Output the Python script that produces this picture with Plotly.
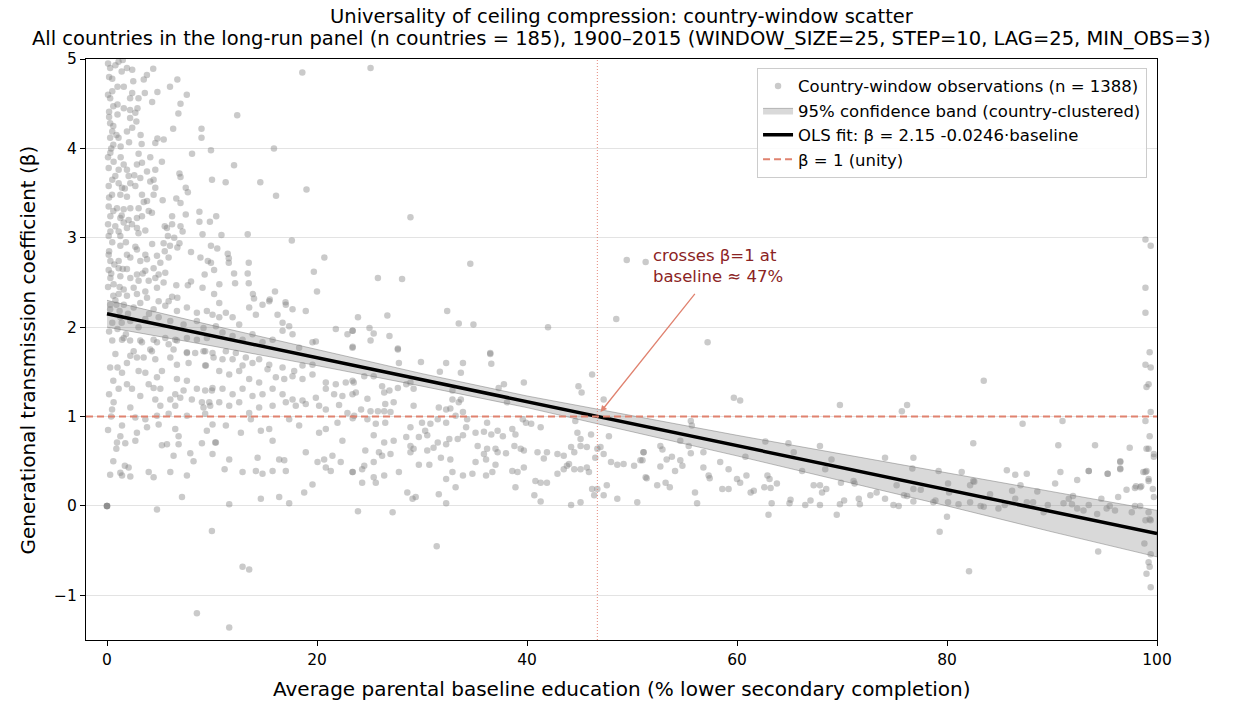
import plotly.graph_objects as go

# ---------------- data ----------------
obs = [
 # x 0-25, beta 4-5
 (1.1,4.97),(0.8,4.93),(1.9,4.90),(0.3,4.90),(1.4,4.86),(2.4,4.88),(4.4,4.89),(0.2,4.80),(0.5,4.78),(3.8,4.82),
 (3.5,4.77),(6.7,4.77),(6.0,4.69),(1.0,4.69),(1.6,4.69),(0.5,4.64),(2.4,4.62),(3.6,4.62),(4.8,4.63),(7.6,4.60),
 (0.3,4.56),(2.2,4.56),(3.0,4.56),(1.0,4.49),(0.6,4.47),(7.0,4.50),(4.3,4.52),(1.6,4.45),(2.2,4.43),(2.9,4.45),
 (0.2,4.41),(1.0,4.38),(6.8,4.39),(2.2,4.34),(2.7,4.40),(0.3,4.28),(0.6,4.25),(2.4,4.23),(0.5,4.19),(1.9,4.19),
 (6.3,4.22),(9.0,4.22),(3.2,4.15),(0.3,4.12),(1.1,4.12),(4.8,4.11),(5.4,4.10),(9.0,4.12),(4.6,4.06),(2.1,4.07),
 (0.6,4.04),(1.3,4.02),(12.4,4.37),(18.6,4.85),(25.1,4.90),(9.9,3.98),(15.9,4.00),(1.5,4.99),(0.1,4.95),
 # x 4-21, beta 2.3-4
 (8.1,3.94),(12.1,3.81),(6.9,3.72),(7.0,3.68),(10.0,3.65),(11.3,3.62),(14.6,3.62),(16.1,3.47),(19.0,3.54),(7.5,3.56),
 (7.7,3.51),(6.6,3.44),(7.0,3.39),(5.3,3.42),(7.5,3.26),(6.2,3.24),(8.8,3.29),(8.8,3.18),(9.8,3.18),(10.4,3.24),
 (5.5,3.13),(6.2,3.15),(7.0,3.13),(7.2,3.07),(9.1,3.04),(10.9,3.03),(13.4,3.04),(17.6,2.97),(5.8,3.02),(6.4,3.00),
 (6.9,2.94),(6.7,2.89),(6.0,2.91),(5.5,2.85),(4.3,2.93),(8.0,2.84),(9.9,2.91),(10.5,2.88),(11.5,2.82),(11.6,2.77),
 (11.6,2.72),(8.9,2.78),(9.6,2.74),(9.9,2.72),(13.5,2.72),(13.4,2.60),(13.5,2.49),(12.1,2.60),(12.2,2.49),(10.7,2.48),
 (20.7,2.78),(19.7,2.62),(20.0,2.40),(16.0,2.40),(13.9,2.37),(14.0,2.32),(15.5,2.31),(17.0,2.28),(10.2,2.64),(9.3,2.59),
 (9.1,2.44),(10.2,2.37),(6.6,2.47),(7.7,2.47),(8.0,2.51),(6.2,2.34),(6.7,2.33),
 # x 23-52, beta 1.7-3.3
 (28.9,3.23),(34.6,2.71),(25.8,2.55),(28.1,2.54),(49.5,2.75),(51.3,2.73),(23.9,2.11),(26.7,2.13),(32.4,2.18),(25.0,1.99),
 (25.4,1.93),(25.1,1.85),(26.9,1.90),(23.4,1.96),(23.4,1.78),(27.7,1.76),(33.5,2.04),(34.9,2.03),(42.0,2.00),(48.5,2.09),
 (36.5,1.71),
 # x 0-6, beta 2.3-4 (dense column)
 (0.32,3.95),(3.01,3.94),(4.12,3.90),(5.23,3.85),(0.63,3.85),(1.59,3.82),(2.85,3.82),(3.33,3.84),(0.16,3.78),(1.11,3.76),
 (1.90,3.76),(3.81,3.74),(4.60,3.76),(0.79,3.69),(2.06,3.69),(3.17,3.67),(4.44,3.65),(1.11,3.61),(2.22,3.61),(4.12,3.63),
 (0.16,3.58),(1.43,3.56),(2.70,3.58),(4.60,3.56),(0.48,3.48),(1.27,3.48),(1.90,3.46),(3.33,3.48),(4.44,3.48),(3.81,3.41),
 (0.16,3.35),(0.95,3.33),(1.59,3.32),(2.22,3.33),(3.01,3.33),(3.97,3.30),(4.28,3.28),(0.32,3.24),(1.27,3.22),(2.06,3.20),
 (2.85,3.22),(3.33,3.24),(2.38,3.15),(1.59,3.17),(0.79,3.13),(1.90,3.11),(2.85,3.11),(3.65,3.08),(5.71,3.11),(0.32,3.07),
 (0.16,3.02),(1.11,3.07),(1.27,3.02),(0.16,2.81),(1.27,2.91),(1.90,2.81),(2.85,2.87),(3.65,2.81),(5.39,2.94),(0.32,2.74),
 (1.11,2.74),(2.22,2.78),(3.17,2.74),(3.81,2.76),(4.76,2.80),(5.08,2.72),(5.87,2.78),(0.16,2.64),(1.11,2.66),(1.90,2.65),
 (2.85,2.59),(3.65,2.63),(4.44,2.66),(4.92,2.59),(5.55,2.61),(0.32,2.55),(1.27,2.57),(2.22,2.55),(3.01,2.52),(3.97,2.52),
 (4.60,2.55),(5.39,2.50),(0.63,2.48),(1.59,2.42),(2.54,2.44),(3.65,2.40),(4.76,2.44),(1.11,2.37),(1.90,2.35),(2.85,2.37),
 (3.81,2.33),(4.92,2.29),(5.87,2.29),
 # x 0-10, beta 1.7-2.3
 (2.54,2.22),(3.17,2.27),(4.44,2.20),(5.55,2.24),(6.66,2.18),(7.61,2.22),(8.56,2.16),(9.51,2.18),(1.27,2.11),(2.22,2.07),
 (3.65,2.09),(4.92,2.11),(6.03,2.07),(7.29,2.03),(8.56,2.07),(9.19,1.99),(1.59,1.88),(3.17,1.85),(4.44,1.86),(5.55,1.88),
 (6.66,1.85),(7.61,1.88),(8.56,1.86),(9.51,1.88),(2.54,1.73),(4.12,1.75),(6.34,1.75),(7.61,1.72),(9.19,1.73),
 (0.3,2.25),(0.8,2.30),(1.2,2.18),(0.5,2.05),(1.6,2.25),(2.0,2.15),(0.2,1.95),(1.0,1.98),(1.8,1.92),
 # x 0-10, beta below 1.9
 (1.43,1.86),(3.33,1.83),(4.28,1.73),(4.76,1.83),(5.87,1.81),(6.50,1.86),(7.61,1.71),(8.40,1.71),(9.35,1.73),(10.15,1.66),
 (2.22,1.68),(2.85,1.66),(3.49,1.66),(4.60,1.64),(6.03,1.66),(6.66,1.58),(7.77,1.60),(9.35,1.57),(1.43,1.49),(3.01,1.51),
 (3.65,1.49),(5.23,1.51),(6.66,1.42),(7.61,1.40),(4.76,1.44),(1.90,1.36),(1.11,1.31),(2.38,1.31),(3.97,1.36),(4.44,1.32),
 (5.08,1.31),(6.50,1.25),(7.29,1.29),(8.56,1.31),(9.35,1.29),(9.99,1.29),(3.17,1.23),(4.60,1.19),(6.03,1.19),(6.98,1.21),
 (8.08,1.19),(9.04,1.16),(9.83,1.12),(0.63,1.16),(0.48,1.08),(2.22,1.10),(5.08,1.12),(6.50,1.12),(9.19,1.10),(2.70,0.99),
 (3.65,0.97),(4.76,1.01),(5.87,1.03),(7.61,1.01),(9.35,1.03),(1.43,0.90),(4.92,0.91),(3.81,0.88),(6.50,0.86),(6.82,0.78),
 (9.51,0.84),(1.27,0.78),(2.85,0.82),(0.95,0.71),(1.74,0.70),(2.70,0.73),(5.23,0.68),(5.71,0.69),(6.82,0.69),(9.04,0.70),
 (10.31,0.71),(0.89,0.64),(6.34,0.56),(7.93,0.59),(8.24,0.50),(1.27,0.37),(1.43,0.34),(2.06,0.43),(2.22,0.33),(3.97,0.38),
 (4.44,0.32),(6.03,0.38),(7.61,0.34),(7.14,0.10),(4.76,-0.04),(9.99,-0.28),
 (0.0,0.0),(0.0,0.0),(0.0,0.0),(0.0,0.0),
 # x 10-24
 (10.69,2.27),(11.32,2.16),(11.96,2.11),(12.59,2.03),(13.54,2.22),(14.18,2.14),(14.81,2.25),(15.45,2.29),(16.24,2.14),(17.03,2.25),
 (17.67,2.20),(18.93,2.18),(16.72,2.05),(17.35,2.01),(17.67,1.92),(10.69,2.11),(10.05,2.14),(10.37,2.01),(11.0,1.94),(11.96,1.90),
 (12.91,1.86),(13.86,1.92),(14.81,1.83),(15.77,1.86),(16.72,1.96),(18.3,1.77),(19.57,1.83),(19.89,1.84),(21.79,1.98),(22.9,1.92),
 (23.38,1.96),(23.38,1.77),(10.05,1.71),(11.32,1.73),(12.27,1.71),(13.22,1.66),(11.0,1.64),(11.96,1.64),(12.91,1.57),(13.86,1.60),
 (14.49,1.64),(15.45,1.58),(16.72,1.55),(17.83,1.51),(18.62,1.57),(19.57,1.58),(9.42,1.57),(10.69,1.51),(11.64,1.47),(12.59,1.51),
 (13.54,1.42),(14.49,1.38),(15.29,1.53),(16.08,1.44),(16.88,1.42),(17.67,1.45),(18.62,1.42),(19.57,1.47),(20.84,1.38),(21.79,1.36),
 (22.74,1.38),(23.38,1.40),(10.05,1.32),(11.0,1.31),(11.96,1.25),(12.91,1.31),(13.86,1.23),(14.81,1.25),(15.77,1.31),(16.72,1.25),
 (17.67,1.19),(18.62,1.18),(19.89,1.21),(20.84,1.31),(21.63,1.25),(22.42,1.23),(23.38,1.25),(9.74,1.16),(10.69,1.16),(11.64,1.12),
 (12.59,1.16),(13.54,1.04),(14.49,1.10),(15.77,1.12),(17.03,1.16),(17.98,1.12),(18.93,1.14),(20.2,1.12),(20.84,1.08),(22.1,1.13),
 (22.9,1.04),(23.54,1.01),(10.05,0.91),(11.32,0.90),(12.75,0.82),(13.7,0.97),(14.65,0.84),(15.45,0.86),(15.77,0.73),(17.35,0.97),
 (18.3,0.90),(18.93,0.60),(19.57,0.24),(18.78,0.15),(17.03,0.39),(16.4,0.52),(16.88,0.51),(15.77,0.39),(14.81,0.36),(14.18,0.39),
 (14.34,0.54),(12.91,0.38),(11.64,0.52),(11.2,0.41),(10.05,0.58),(10.37,0.71),(21.95,0.93),(22.42,0.73),(20.84,0.86),(20.2,0.82),
 (20.05,0.49),(20.68,0.52),(20.84,0.43),(21.47,0.56),(21.31,0.39),(22.26,0.49),(23.38,0.38),(17.35,0.03),(16.4,0.10),(14.65,0.08),
 (11.64,0.02),(12.91,-0.68),(13.54,-0.71),(8.56,-1.20),(11.64,-1.36),
 # x 23-52
 (27.7,1.75),(27.8,1.60),(29.9,1.61),(32.3,1.60),(33.9,1.60),(33.7,1.49),(31.7,1.50),(36.5,1.70),(36.6,1.59),(23.5,1.38),
 (23.7,1.27),(24.5,1.45),(24.8,1.20),(25.4,1.45),(26.2,1.34),(26.4,1.27),(26.9,1.29),(27.7,1.32),(28.5,1.36),(28.9,1.38),
 (29.2,1.31),(32.9,1.29),(33.7,1.19),(33.5,1.16),(32.9,1.19),(32.7,1.09),(32.3,1.08),(31.6,1.10),(29.2,1.12),(27.3,1.16),
 (26.5,1.14),(27.0,1.05),(26.4,1.06),(25.8,1.06),(25.1,1.06),(24.2,1.08),(23.4,0.98),(24.8,0.97),(25.6,0.92),(26.5,0.93),
 (28.9,0.88),(30.0,0.93),(30.8,0.92),(31.5,0.97),(32.3,0.93),(33.2,1.01),(33.9,1.05),(34.3,0.97),(36.2,0.93),(37.8,1.36),
 (37.3,1.32),(38.1,1.16),(39.7,1.38),(39.9,0.93),(40.4,0.92),(41.3,0.88),(39.6,0.97),(38.6,0.86),(38.9,0.80),(37.7,0.78),
 (37.2,0.84),(36.6,0.80),(35.9,0.83),(35.1,0.82),(34.2,0.88),(33.9,0.79),(33.4,0.75),(32.6,0.75),(32.3,0.69),(31.5,0.71),
 (31.1,0.65),(30.5,0.79),(30.3,0.84),(29.7,0.77),(29.2,0.64),(28.5,0.77),(27.3,0.73),(26.4,0.71),(25.9,0.60),(25.4,0.79),
 (24.6,0.62),(24.5,0.45),(25.4,0.49),(26.2,0.56),(27.0,0.58),(28.9,0.67),(28.9,0.60),(30.5,0.62),(31.8,0.54),(32.7,0.52),
 (32.9,0.38),(32.3,0.30),(33.2,0.21),(31.6,0.13),(30.7,0.46),(29.7,0.46),(27.8,0.38),(26.4,0.34),(25.6,0.26),(25.4,0.32),
 (24.3,0.41),(24.3,0.26),(23.4,0.38),(35.3,0.67),(35.9,0.58),(36.2,0.64),(37.0,0.64),(37.2,0.60),(38.0,0.59),(35.1,0.49),
 (36.1,0.52),(37.0,0.46),(36.7,0.38),(36.1,0.34),(34.8,0.36),(33.9,0.34),(38.8,0.67),(39.4,0.64),(39.7,0.62),(41.0,0.60),
 (41.6,0.53),(41.9,0.60),(42.9,0.58),(43.5,0.56),(44.2,0.66),(44.5,0.60),(45.1,0.67),(45.7,0.66),(38.6,0.39),(39.1,0.38),
 (39.7,0.43),(40.8,0.28),(41.3,0.26),(41.9,0.26),(42.9,0.36),(43.8,0.45),(44.0,0.47),(43.5,0.41),(44.5,0.41),(45.1,0.41),
 (45.7,0.43),(45.9,0.38),(46.5,0.54),(46.7,0.64),(47.0,0.66),(47.3,0.58),(48.0,0.49),(48.6,0.46),(49.2,0.47),(50.2,0.45),
 (50.8,0.51),(51.1,0.60),(51.3,0.32),(50.5,0.04),(48.6,0.08),(47.6,0.23),(47.3,0.12),(46.2,0.19),(46.7,0.19),(46.4,0.12),
 (45.1,0.04),(44.2,0.01),(41.3,0.05),(40.7,0.12),(38.9,0.21),(29.4,0.10),(29.1,0.08),(28.6,0.15),(32.3,0.03),(23.9,-0.06),
 (27.2,-0.07),(31.4,-0.45),(44.9,1.34),(45.2,1.27),(46.2,1.47),(47.3,1.19),(44.6,0.95),(44.8,0.82),(45.1,0.75),(46.1,0.80),
 (47.8,0.78),
 # x 50-100
 (57.2,1.83),(59.7,1.21),(60.3,1.18),(69.8,1.13),(75.7,1.06),(76.2,1.13),(83.5,1.40),(87.2,0.92),(91.0,0.95),(90.6,0.68),
 (94.1,0.68),(82.5,0.70),(97.4,0.65),(55.6,0.95),(55.7,0.90),(51.1,0.60),(51.0,0.51),(52.7,0.67),(52.9,0.63),(54.6,0.73),
 (55.4,0.67),(55.6,0.59),(56.8,0.60),(58.4,0.49),(53.8,0.55),(53.3,0.52),(54.6,0.51),(54.8,0.45),(52.7,0.44),(54.1,0.39),
 (56.8,0.43),(59.2,0.41),(62.7,0.72),(60.8,0.55),(64.9,0.70),(65.4,0.60),(67.9,0.67),(69.0,0.52),(68.4,0.41),(66.2,0.39),
 (74.1,0.54),(76.8,0.54),(76.7,0.42),(79.2,0.39),(81.4,0.38),(85.7,0.40),(86.5,0.35),(87.6,0.36),(82.6,0.27),(82.2,0.23),
 (90.3,0.25),(90.8,0.38),(92.4,0.29),(93.5,0.39),(95.3,0.36),(96.5,0.41),(96.5,0.49),(97.1,0.18),(98.0,0.22),(98.5,0.22),
 (51.4,0.31),(52.4,0.23),(53.2,0.26),(53.6,0.21),(57.3,0.34),(57.4,0.31),(56.0,0.15),(56.2,0.03),(58.6,0.19),(59.2,0.19),
 (60.0,0.30),(60.3,0.26),(60.9,0.34),(61.3,0.15),(61.6,0.17),(62.9,0.34),(63.1,0.30),(63.8,0.25),(62.6,0.21),(63.2,0.20),
 (63.3,0.03),(63.0,-0.10),(65.1,0.07),(65.0,0.03),(66.5,0.01),(67.0,0.06),(67.3,0.23),(67.9,0.23),(68.1,0.15),(68.5,0.19),
 (67.9,0.01),(69.5,-0.10),(69.8,0.02),(70.2,0.06),(69.9,0.26),(71.1,0.28),(71.2,0.25),(71.6,0.08),(71.7,0.02),(72.7,0.12),
 (73.3,0.15),(74.1,0.08),(74.9,0.01),(75.4,0.00),(75.2,0.23),(75.9,0.12),(76.2,0.11),(76.8,0.19),(77.5,0.18),(76.8,0.05),
 (78.7,0.04),(78.9,0.06),(79.3,-0.29),(80.0,-0.12),(80.1,0.04),(80.2,0.15),(80.1,0.25),(81.1,0.02),(82.2,0.04),(82.5,0.28),
 (82.1,-0.73),(83.2,0.00),(83.5,-0.01),(84.1,0.13),(84.9,-0.03),(85.5,0.01),(86.2,0.17),(86.5,0.08),(87.0,0.23),(87.6,0.04),
 (88.2,0.04),(88.6,0.16),(89.2,-0.07),(89.6,0.01),(91.1,0.03),(91.6,0.08),(92.0,0.11),(91.9,0.02),(92.4,-0.03),(93.0,-0.05),
 (93.5,0.01),(94.3,-0.09),(94.4,-0.51),(94.7,0.08),(95.2,-0.03),(95.5,0.00),(96.0,-0.05),(96.3,0.10),(97.6,-0.07),(97.9,0.00),
 (98.4,0.00),(98.7,0.38),(99.0,0.39),(99.2,0.30),(97.9,0.20),(98.4,0.21),(93.5,0.39),(96.5,0.50),(96.5,0.42),(95.3,0.36),
 # right edge column
 (98.9,2.98),(99.4,2.91),(98.9,2.44),(98.9,2.16),(99.3,1.72),(98.9,1.58),(99.4,1.55),(99.2,1.36),(99.0,1.33),(99.4,1.05),
 (98.9,0.95),(99.3,0.78),(99.2,0.64),(99.7,0.55),(98.9,0.38),(99.2,0.28),(99.6,0.19),(99.7,0.10),(98.9,-0.16),(99.4,-0.16),
 (98.8,-0.42),(99.4,-0.54),(99.2,-0.63),(99.0,-0.76),(99.4,-0.91),(99.3,-0.68),(99.3,-0.15),(99.2,-0.07),(99.0,0.64),(99.7,0.58),
 # extra points in the dense left column
 (0.1,4.60),(0.2,4.35),(0.4,4.00),(0.1,3.90),(0.5,3.65),(0.2,3.45),(0.6,3.30),(0.1,3.15),(0.5,2.95),(0.2,2.85),
 (0.7,2.70),(0.4,2.60),(0.1,2.45),(0.6,2.35),(0.3,2.20),(0.9,4.15),(1.3,3.90),(1.7,3.55),(1.4,3.25),(1.8,2.95),
 (1.5,2.65),(1.2,2.45),(0.9,2.25),(1.4,2.05),(0.5,1.85),(0.8,1.70),(0.3,1.55),(0.6,1.40),(1.0,1.55),(2.5,4.75),
 (2.8,4.30),(3.3,4.05),(2.6,3.70),(3.5,3.40),(3.0,3.05),(2.7,2.90),(3.4,2.60),(4.0,2.15),(3.0,2.00),(2.2,1.85),
 (1.9,1.60),(0.2,1.25),(0.4,1.00),(0.1,0.85),(0.6,0.50),(1.7,0.45),(0.3,0.35),
]
obs_x = [p[0] for p in obs]
obs_y = [p[1] for p in obs]

# OLS fit (from the legend) and 95% band
fit_x = [0, 100]
fit_y = [2.15, -0.31]
band_x = [0, 10, 20, 30, 40, 50, 60, 70, 80, 90, 100]
band_lo = [2.00, 1.79, 1.57, 1.34, 1.10, 0.83, 0.56, 0.28, 0.00, -0.29, -0.57]
band_hi = [2.30, 2.02, 1.75, 1.48, 1.23, 1.01, 0.79, 0.58, 0.37, 0.16, -0.05]
unity_x = [-2, 100]
unity_y = [1, 1]
cross_x = 46.7

x_ticks = [0, 20, 40, 60, 80, 100]
y_ticks = [-1, 0, 1, 2, 3, 4, 5]

FONT = "DejaVu Sans"
SALMON = "#e0826f"

fig = go.Figure()
fig.add_trace(go.Scatter(
    x=obs_x, y=obs_y, mode="markers",
    marker=dict(size=6.5, color="rgba(128,128,128,0.42)", line=dict(width=0)),
    name="Country-window observations (n = 1388)"))
fig.add_trace(go.Scatter(
    x=band_x + band_x[::-1], y=band_hi + band_lo[::-1],
    fill="toself", mode="lines",
    fillcolor="rgba(128,128,128,0.30)",
    line=dict(color="rgba(110,110,110,0.45)", width=1),
    name="95% confidence band (country-clustered)"))
fig.add_trace(go.Scatter(
    x=fit_x, y=fit_y, mode="lines",
    line=dict(color="black", width=3.5),
    name="OLS fit: β = 2.15 -0.0246·baseline"))
fig.add_trace(go.Scatter(
    x=unity_x, y=unity_y, mode="lines",
    line=dict(color=SALMON, width=2, dash="7px,4px"),
    name="β = 1 (unity)"))

fig.add_shape(type="line", xref="x", yref="paper", x0=cross_x, x1=cross_x, y0=0, y1=1,
              line=dict(color="rgba(225,115,100,0.85)", width=1, dash="1px,2px"))

# annotation arrow and text
fig.add_annotation(x=47.0, y=1.05, ax=56.1, ay=2.39, xref="x", yref="y", axref="x", ayref="y",
                   text="", showarrow=True, arrowhead=2, arrowsize=1, arrowwidth=1.3,
                   arrowcolor=SALMON)
fig.add_annotation(x=51.8, y=2.68, xref="x", yref="y", xanchor="left", yanchor="middle",
                   text="crosses β=1 at<br>baseline ≈ 47%", showarrow=False, align="left",
                   font=dict(family=FONT, size=16.5, color="#8b2323"))

# titles
fig.add_annotation(x=0.5, y=1.0735, xref="paper", yref="paper", showarrow=False,
                   text="Universality of ceiling compression: country-window scatter",
                   font=dict(family=FONT, size=19.5, color="black"), yanchor="middle")
fig.add_annotation(x=0.5, y=1.0345, xref="paper", yref="paper", showarrow=False,
                   text="All countries in the long-run panel (n countries = 185), 1900–2015 (WINDOW_SIZE=25, STEP=10, LAG=25, MIN_OBS=3)",
                   font=dict(family=FONT, size=19.5, color="black"), yanchor="middle")
fig.add_annotation(x=0.5, y=-0.0843, xref="paper", yref="paper", showarrow=False,
                   text="Average parental baseline education (% lower secondary completion)",
                   font=dict(family=FONT, size=20, color="black"), yanchor="middle")
fig.add_annotation(x=-0.0542, y=0.5, xref="paper", yref="paper", showarrow=False,
                   text="Generational transmission coefficient (β)", textangle=-90,
                   font=dict(family=FONT, size=20, color="black"), xanchor="center")

fig.update_layout(
    width=1242, height=703,
    margin=dict(l=86, r=85, t=59, b=63),
    paper_bgcolor="white", plot_bgcolor="white",
    font=dict(family=FONT, size=14, color="black"),
    showlegend=True,
    legend=dict(x=0.9907, xanchor="right", y=0.985, yanchor="top",
                bgcolor="rgba(255,255,255,0.85)", bordercolor="#cccccc", borderwidth=1,
                font=dict(family=FONT, size=16.5)),
)
fig.update_xaxes(range=[-2, 100], tickvals=x_ticks, showgrid=False, zeroline=False,
                 showline=True, mirror=True, linecolor="black", linewidth=1.2,
                 ticks="outside", ticklen=5, tickcolor="black",
                 tickfont=dict(family=FONT, size=15.5))
fig.update_yaxes(range=[-1.5, 5], tickvals=y_ticks, showgrid=True, gridcolor="#e3e3e3",
                 gridwidth=1, zeroline=False,
                 showline=True, mirror=True, linecolor="black", linewidth=1.2,
                 ticks="outside", ticklen=5, tickcolor="black",
                 tickfont=dict(family=FONT, size=15.5))

fig.write_html("out.html", config={"displayModeBar": False},
               post_script="document.body.style.margin='0px';")
